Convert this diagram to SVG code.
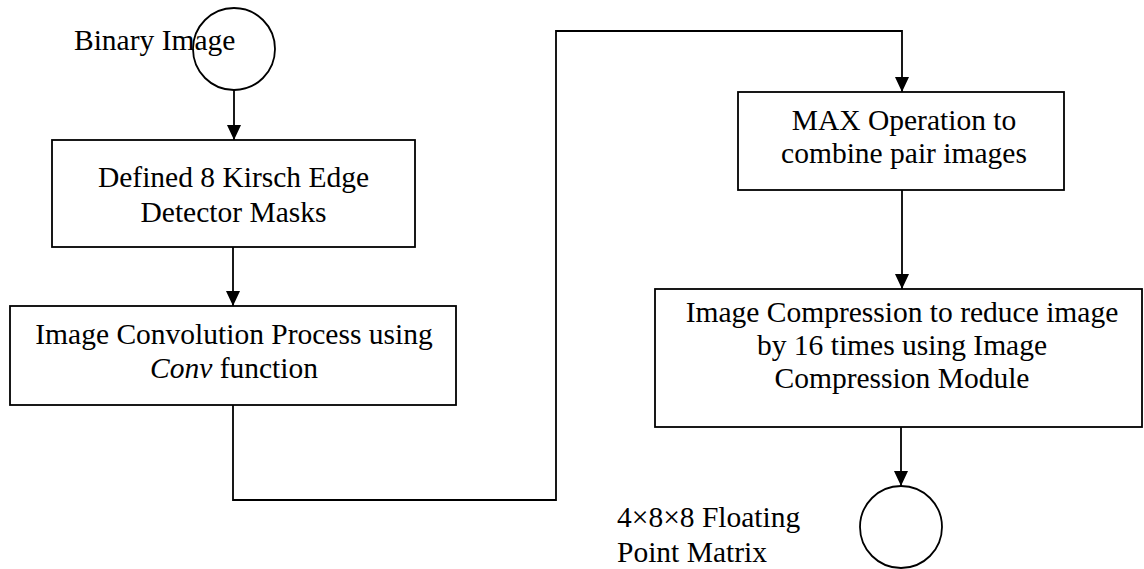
<svg xmlns="http://www.w3.org/2000/svg" width="1144" height="569" viewBox="0 0 1144 569">
  <style>
    .box { fill: #ffffff; stroke: #000000; stroke-width: 1.8; }
    .term { fill: none; stroke: #000000; stroke-width: 1.8; }
    .edge { fill: none; stroke: #000000; stroke-width: 1.8; }
    text { font-family: "Liberation Serif", "Times New Roman", serif; font-size: 29.5px; fill: #000000; }
    .c { text-anchor: middle; }
  </style>
  <defs>
    <marker id="arrow" markerUnits="userSpaceOnUse" markerWidth="16" markerHeight="16" refX="15" refY="7" orient="auto">
      <path d="M0,0 L15,7 L0,14 Z" fill="#000000"/>
    </marker>
  </defs>
  <rect width="1144" height="569" fill="#ffffff"/>

  <!-- connectors -->
  <g id="connectors">
    <line class="edge" x1="234" y1="90" x2="234" y2="140" marker-end="url(#arrow)"/>
    <line class="edge" x1="233" y1="247" x2="233" y2="306" marker-end="url(#arrow)"/>
    <polyline class="edge" points="233,405 233,500 556,500 556,31 902,31 902,92" marker-end="url(#arrow)"/>
    <line class="edge" x1="902" y1="190" x2="902" y2="289" marker-end="url(#arrow)"/>
    <line class="edge" x1="901" y1="427" x2="901" y2="486" marker-end="url(#arrow)"/>
  </g>

  <!-- start terminal -->
  <g id="start">
    <circle class="term" cx="234" cy="49" r="41"/>
    <text x="74" y="50">Binary Image</text>
  </g>

  <g id="kirsch-masks">
    <rect class="box" x="52" y="140" width="363" height="107"/>
    <text class="c" x="233.5" y="187">Defined 8 Kirsch Edge</text>
    <text class="c" x="233.5" y="222">Detector Masks</text>
  </g>

  <g id="convolution">
    <rect class="box" x="10" y="306" width="446" height="99"/>
    <text class="c" x="234" y="344">Image Convolution Process using</text>
    <text class="c" x="234" y="378"><tspan font-style="italic">Conv</tspan> function</text>
  </g>

  <g id="max-operation">
    <rect class="box" x="738" y="92" width="326" height="98"/>
    <text class="c" x="904" y="130">MAX Operation to</text>
    <text class="c" x="904" y="163">combine pair images</text>
  </g>

  <g id="compression">
    <rect class="box" x="655" y="289" width="487" height="138"/>
    <text class="c" x="902" y="322">Image Compression to reduce image</text>
    <text class="c" x="902" y="355">by 16 times using Image</text>
    <text class="c" x="902" y="388">Compression Module</text>
  </g>

  <!-- end terminal -->
  <g id="end">
    <circle class="term" cx="901" cy="527" r="41"/>
    <text x="617" y="527">4×8×8 Floating</text>
    <text x="617" y="562">Point Matrix</text>
  </g>
</svg>
